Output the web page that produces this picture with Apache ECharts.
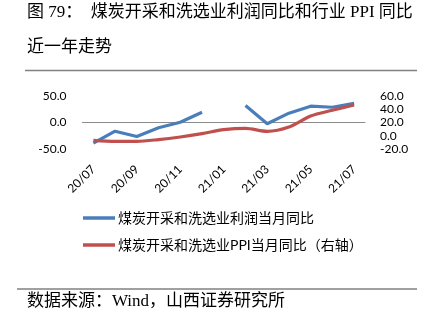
<!DOCTYPE html>
<html>
<head>
<meta charset="utf-8">
<script src="https://cdn.jsdelivr.net/npm/echarts@6/dist/echarts.min.js"></script>
<style>
html,body{margin:0;padding:0;background:#fff;}
#chart{width:434px;height:325px;}
</style>
</head>
<body>
<div id="chart"></div>
<script>
var categories = ['20/07','20/08','20/09','20/10','20/11','20/12','21/01','21/02','21/03','21/04','21/05','21/06','21/07'];
var profitYoY = [-38.6, -16.2, -26.1, -9.9, 0.6, 19.2, null, 31.7, -2.4, 17.4, 30.4, 28.5, 36.0];
var ppiYoY = [-6.6, -8.1, -8.1, -5.5, -1.6, 3.4, 9.4, 11.3, 6.9, 13.3, 29.7, 38.2, 46.1];
var seriesNames = ['煤炭开采和洗选业利润当月同比', '煤炭开采和洗选业PPI当月同比（右轴）'];
var titleLine1 = '图 79：  煤炭开采和洗选业利润同比和行业 PPI 同比';
var titleLine2 = '近一年走势';
var sourceText = '数据来源：Wind，山西证券研究所';

var chart = echarts.init(document.getElementById('chart'), null, {renderer:'canvas'});
var labelFont = 'Lato, "Noto Sans CJK SC", sans-serif';
var titleFont = '"Liberation Serif", "Noto Sans CJK SC", serif';
chart.setOption({
  animation: false,
  backgroundColor: '#fff',
  grid: {left: 82.5, right: 69, top: 95.7, bottom: 175.7, containLabel: false},
  xAxis: {
    type: 'category',
    data: categories,
    boundaryGap: true,
    axisLine: {show: true, onZero: true, lineStyle: {color: '#8c8c8c', width: 1.2}},
    axisTick: {show: false},
    axisLabel: {interval: 1, rotate: 45, margin: 18, fontSize: 12, color: '#000', fontFamily: labelFont}
  },
  yAxis: [
    {type: 'value', min: -50, max: 50, interval: 50,
     axisLine: {show: false}, axisTick: {show: false}, splitLine: {show: false},
     axisLabel: {margin: 16, fontSize: 12, color: '#000', fontFamily: labelFont,
       formatter: function(v){return v.toFixed(1);}}},
    {type: 'value', min: -20, max: 60, interval: 20, position: 'right',
     axisLine: {show: false}, axisTick: {show: false}, splitLine: {show: false},
     axisLabel: {margin: 15, fontSize: 12, color: '#000', fontFamily: labelFont,
       formatter: function(v){return v.toFixed(1);}}}
  ],
  legend: {
    orient: 'vertical', left: 83, top: 211, padding: 0,
    itemWidth: 32, itemHeight: 3.5, itemGap: 13, icon: 'rect',
    textStyle: {fontSize: 14, color: '#000', fontFamily: labelFont, padding: [0,0,0,-2]},
    data: seriesNames
  },
  series: [
    {name: seriesNames[0], type: 'line', yAxisIndex: 0, data: profitYoY, connectNulls: false,
     symbol: 'none', lineStyle: {color: '#4a7ebb', width: 3.2}, itemStyle: {color: '#4a7ebb'}},
    {name: seriesNames[1], type: 'line', yAxisIndex: 1, data: ppiYoY,
     symbol: 'none', smooth: 0.3, lineStyle: {color: '#c0504d', width: 3.2}, itemStyle: {color: '#c0504d'}}
  ],
  graphic: [
    {type: 'text', left: 27, top: 4, style: {text: titleLine1, font: '17px ' + titleFont, fill: '#000'}},
    {type: 'text', left: 27, top: 39, style: {text: titleLine2, font: '17px ' + titleFont, fill: '#000'}},
    {type: 'line', shape: {x1: 25, y1: 70.5, x2: 417, y2: 70.5}, style: {stroke: '#808080', lineWidth: 1.5}},
    {type: 'line', shape: {x1: 17, y1: 289, x2: 417, y2: 289}, style: {stroke: '#808080', lineWidth: 1.5}},
    {type: 'text', left: 27, top: 293, style: {text: sourceText, font: '17px ' + titleFont, fill: '#000'}}
  ]
});
</script>
</body>
</html>
